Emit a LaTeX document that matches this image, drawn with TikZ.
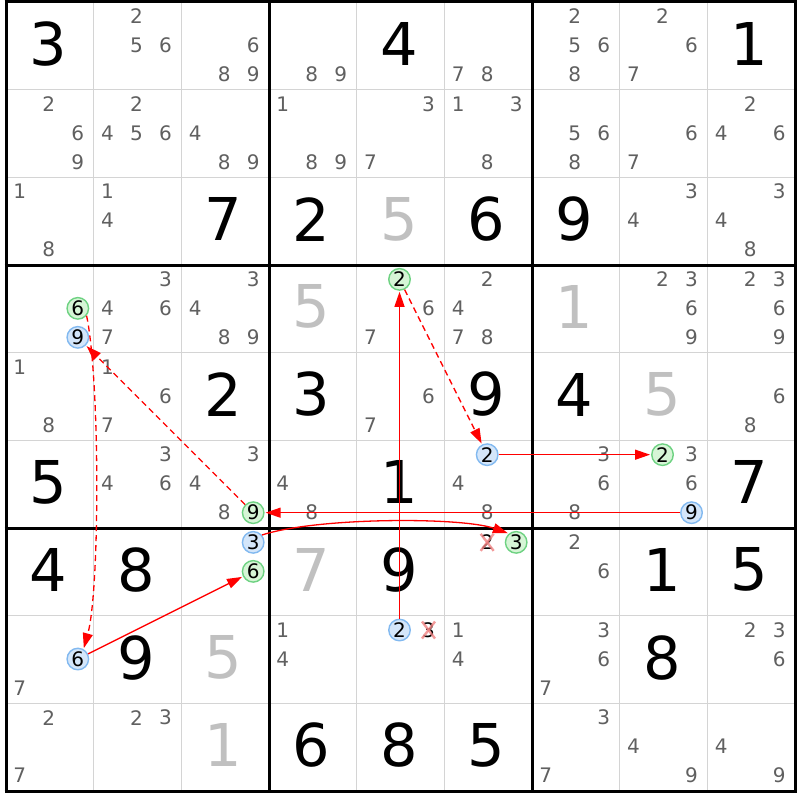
\documentclass[tikz,border=0pt]{standalone}
\usepackage{fontspec}
\setmainfont{DejaVu Sans}
\usetikzlibrary{arrows.meta}
\definecolor{candgray}{RGB}{96,96,96}
\definecolor{givgray}{RGB}{192,192,192}
\definecolor{gridgray}{RGB}{212,212,212}
\definecolor{cgfill}{RGB}{214,245,214}
\definecolor{cgdraw}{RGB}{110,210,130}
\definecolor{cbfill}{RGB}{212,230,250}
\definecolor{cbdraw}{RGB}{130,185,240}
\definecolor{xred}{RGB}{240,130,130}
\newcommand\cpos[3]{%
  \pgfmathsetmacro\px{6+(#2-1)*87.67+43.83+(mod(#3-1,3)-1)*29-1}%
  \pgfmathsetmacro\py{2+(#1-1)*87.67+43.83+(floor((#3-1)/3)-1)*29-0.5}}
\begin{document}
\begin{tikzpicture}[x=1pt,y=-1pt,
  cand/.style={inner sep=0pt, text=candgray, font=\fontsize{20}{20}\selectfont},
  candk/.style={inner sep=0pt, text=black, font=\fontsize{20}{20}\selectfont},
  gcirc/.style={candk, circle, minimum size=21.5pt, draw=cgdraw, fill=cgfill, line width=1.4pt},
  bcirc/.style={candk, circle, minimum size=21.5pt, draw=cbdraw, fill=cbfill, line width=1.4pt},
  given/.style={inner sep=0pt, text=black, font=\fontsize{59}{59}\selectfont},
  solved/.style={given, text=givgray},
  link/.style={draw=red, line width=1.3pt, -{Triangle[length=15pt,width=10pt]}, shorten >=1pt},
  dlink/.style={link, dash pattern=on 6pt off 4pt},
  xmark/.style={draw=xred, line width=2.4pt, opacity=0.8},
  thin grid/.style={draw=gridgray, line width=1.6pt},
  thick grid/.style={draw=black, line width=3pt}
]
\fill[white] (0,0) rectangle (800,800);
\useasboundingbox (0,0) rectangle (800,800);
% grid
\foreach \i in {1,2,4,5,7,8} {
  \draw[thin grid] ({6+\i*87.67},2) -- ({6+\i*87.67},791);
  \draw[thin grid] (6,{2+\i*87.67}) -- (795,{2+\i*87.67});
}
\foreach \i in {0,3,6,9} {
  \draw[thick grid] ({6+\i*87.67},0.5) -- ({6+\i*87.67},792.5);
  \draw[thick grid] (4.5,{2+\i*87.67}) -- (796.5,{2+\i*87.67});
}
% givens
\foreach \r/\c/\v in {1/1/3,1/5/4,1/9/1,3/3/7,3/4/2,3/6/6,3/7/9,5/3/2,5/4/3,5/6/9,5/7/4,
  6/1/5,6/5/1,6/9/7,7/1/4,7/2/8,7/5/9,7/8/1,7/9/5,8/2/9,8/8/8,9/4/6,9/5/8,9/6/5} {
  \pgfmathsetmacro\gx{6+(\c-1)*87.67+43.83-1.5}
  \pgfmathsetmacro\gy{2+(\r-1)*87.67+43.83-2}
  \node[given] (g\r\c) at (\gx,\gy) {\v};
}
\foreach \r/\c/\v in {3/5/5,4/4/5,4/7/1,5/8/5,7/4/7,8/3/5,9/3/1} {
  \pgfmathsetmacro\gx{6+(\c-1)*87.67+43.83-1.5}
  \pgfmathsetmacro\gy{2+(\r-1)*87.67+43.83-2}
  \node[solved] (g\r\c) at (\gx,\gy) {\v};
}
% plain candidates
\foreach \r/\c/\ds in {1/2/{2,5,6},1/3/{6,8,9},1/4/{8,9},1/6/{7,8},1/7/{2,5,6,8},1/8/{2,6,7},
  2/1/{2,6,9},2/2/{2,4,5,6},2/3/{4,8,9},2/4/{1,8,9},2/5/{3,7},2/6/{1,3,8},2/7/{5,6,8},2/8/{6,7},2/9/{2,4,6},
  3/1/{1,8},3/2/{1,4},3/8/{3,4},3/9/{3,4,8},
  4/2/{3,4,6,7},4/3/{3,4,8,9},4/5/{6,7},4/6/{2,4,7,8},4/8/{2,3,6,9},4/9/{2,3,6,9},
  5/1/{1,8},5/2/{1,6,7},5/5/{6,7},5/9/{6,8},
  6/2/{3,4,6},6/3/{3,4,8},6/4/{4,8},6/6/{4,8},6/7/{3,6,8},6/8/{3,6},
  7/7/{2,6},
  8/1/{7},8/4/{1,4},8/6/{1,4},8/7/{3,6,7},8/9/{2,3,6},
  9/1/{2,7},9/2/{2,3},9/7/{3,7},9/8/{4,9},9/9/{4,9}} {
  \foreach \d in \ds {
    \cpos{\r}{\c}{\d}
    \node[cand] (n\r\c\d) at (\px,\py) {\d};
  }
}
% highlighted candidates
\foreach \r/\c/\d in {4/1/6,4/5/2,6/3/9,6/8/2,7/3/6,7/6/3} {
  \cpos{\r}{\c}{\d}
  \node[gcirc] (n\r\c\d) at (\px,\py) {\d};
}
\foreach \r/\c/\d in {4/1/9,6/6/2,6/8/9,7/3/3,8/1/6,8/5/2} {
  \cpos{\r}{\c}{\d}
  \node[bcirc] (n\r\c\d) at (\px,\py) {\d};
}
% eliminated candidates
\foreach \r/\c/\d in {7/6/2,8/5/3} {
  \cpos{\r}{\c}{\d}
  \node[candk] (n\r\c\d) at (\px,\py) {\d};
  \draw[xmark] ([shift={(-6.5,-8.5)}]n\r\c\d.center) -- ([shift={(6.5,8.5)}]n\r\c\d.center);
  \draw[xmark] ([shift={(-6.5,8.5)}]n\r\c\d.center) -- ([shift={(6.5,-8.5)}]n\r\c\d.center);
}
% links
\draw[link] (n852) -- (n452);
\draw[dlink] (n452) -- (n662);
\draw[link] (n662) -- (n682);
\draw[link] (n689) -- (n639);
\draw[link] (n733.40) .. controls (318,517) and (462,517) .. (n763.130);
\draw[dlink] (n639) -- (n419);
\draw[dlink] (n416.-40) .. controls (100,380) and (100,590) .. (n816.60);
\draw[link] (n816) -- (n736);
\end{tikzpicture}
\end{document}
